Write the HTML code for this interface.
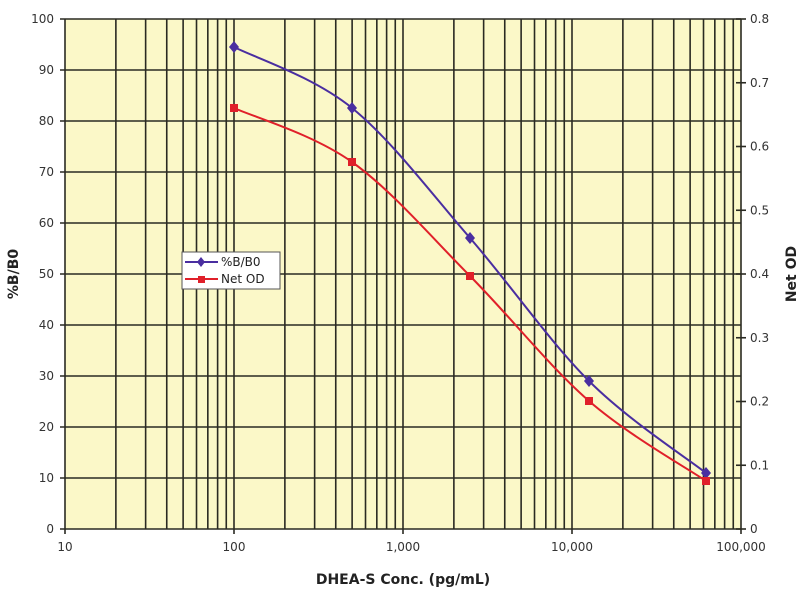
<!DOCTYPE html>
<html><head><style>body{margin:0;background:#fff}</style></head><body>
<svg width="800" height="600" xmlns="http://www.w3.org/2000/svg" font-family="'DejaVu Sans', 'Liberation Sans', sans-serif">
<rect x="65" y="19" width="676" height="510" fill="#fbf8c8"/>
<g id="g" stroke="#2a2a22" stroke-width="1.6"></g>
<g id="t" font-size="12" fill="#333"></g>
<script>
var g=document.getElementById('g'),t=document.getElementById('t'),ns='http://www.w3.org/2000/svg';
function el(p,n,a,txt){var e=document.createElementNS(ns,n);for(var k in a)e.setAttribute(k,a[k]);if(txt!==undefined)e.textContent=txt;p.appendChild(e);return e;}
var X=function(v){return 65+169*Math.log10(v/10)}, Y=function(v){return 529-5.1*v};
for(var d=10;d<100000;d*=10)for(var m=1;m<10;m++){var x=X(d*m);el(g,'line',{x1:x,x2:x,y1:19,y2:529});}
el(g,'line',{x1:741,x2:741,y1:19,y2:529});
for(var i=0;i<=10;i++){var y=Y(i*10);el(g,'line',{x1:60,x2:741,y1:y,y2:y});
el(t,'text',{x:54,y:y+4,'text-anchor':'end'},i*10);}
for(var i=0;i<=8;i++){var y=529-63.75*i;el(g,'line',{x1:736,x2:746,y1:y,y2:y});
el(t,'text',{x:750,y:y+4},i==0?'0':'0.'+i);}
var labs=['10','100','1,000','10,000','100,000'];
for(var i=0;i<5;i++){var x=65+169*i;el(g,'line',{x1:x,x2:x,y1:529,y2:534});el(t,'text',{x:x,y:551,'text-anchor':'middle'},labs[i]);}
</script>
<path d="M234,47 C253.7,57.2 312.7,76.2 352,108 C391.3,139.8 430.5,192.5 470,238 C509.5,283.5 549.7,341.8 589,381 C628.3,420.2 686.5,457.7 706,473" fill="none" stroke="#4a2ea0" stroke-width="2"/>
<path d="M234,108 C253.7,117 312.7,134 352,162 C391.3,190 430.5,236.2 470,276 C509.5,315.8 549.7,366.8 589,401 C628.3,435.2 686.5,467.7 706,481" fill="none" stroke="#e0202a" stroke-width="2"/>
<g fill="#4a2ea0"><path d="M234,41l5,6-5,6-5-6z"/><path d="M352,102l5,6-5,6-5-6z"/><path d="M470,232l5,6-5,6-5-6z"/><path d="M589,375l5,6-5,6-5-6z"/><path d="M706,467l5,6-5,6-5-6z"/></g>
<g fill="#e0202a"><rect x="230" y="104" width="8" height="8"/><rect x="348" y="158" width="8" height="8"/><rect x="466" y="272" width="8" height="8"/><rect x="585" y="397" width="8" height="8"/><rect x="702" y="477" width="8" height="8"/></g>
<rect x="182" y="252" width="98" height="37" fill="#fff" stroke="#555"/>
<line x1="185" x2="218" y1="262" y2="262" stroke="#4a2ea0" stroke-width="2"/><path d="M201,257l4,5-4,5-4-5z" fill="#4a2ea0"/>
<line x1="185" x2="218" y1="279" y2="279" stroke="#e0202a" stroke-width="2"/><rect x="198" y="276" width="7" height="7" fill="#e0202a"/>
<text x="221" y="266" font-size="12" fill="#222">%B/B0</text>
<text x="221" y="283" font-size="12" fill="#222">Net OD</text>
<text x="403" y="584" font-size="14" font-weight="bold" text-anchor="middle" fill="#222">DHEA-S Conc. (pg/mL)</text>
<text transform="translate(18,274) rotate(-90)" font-size="14" font-weight="bold" text-anchor="middle" fill="#222">%B/B0</text>
<text transform="translate(796,274) rotate(-90)" font-size="14" font-weight="bold" text-anchor="middle" fill="#222">Net OD</text>
</svg>
</body></html>
